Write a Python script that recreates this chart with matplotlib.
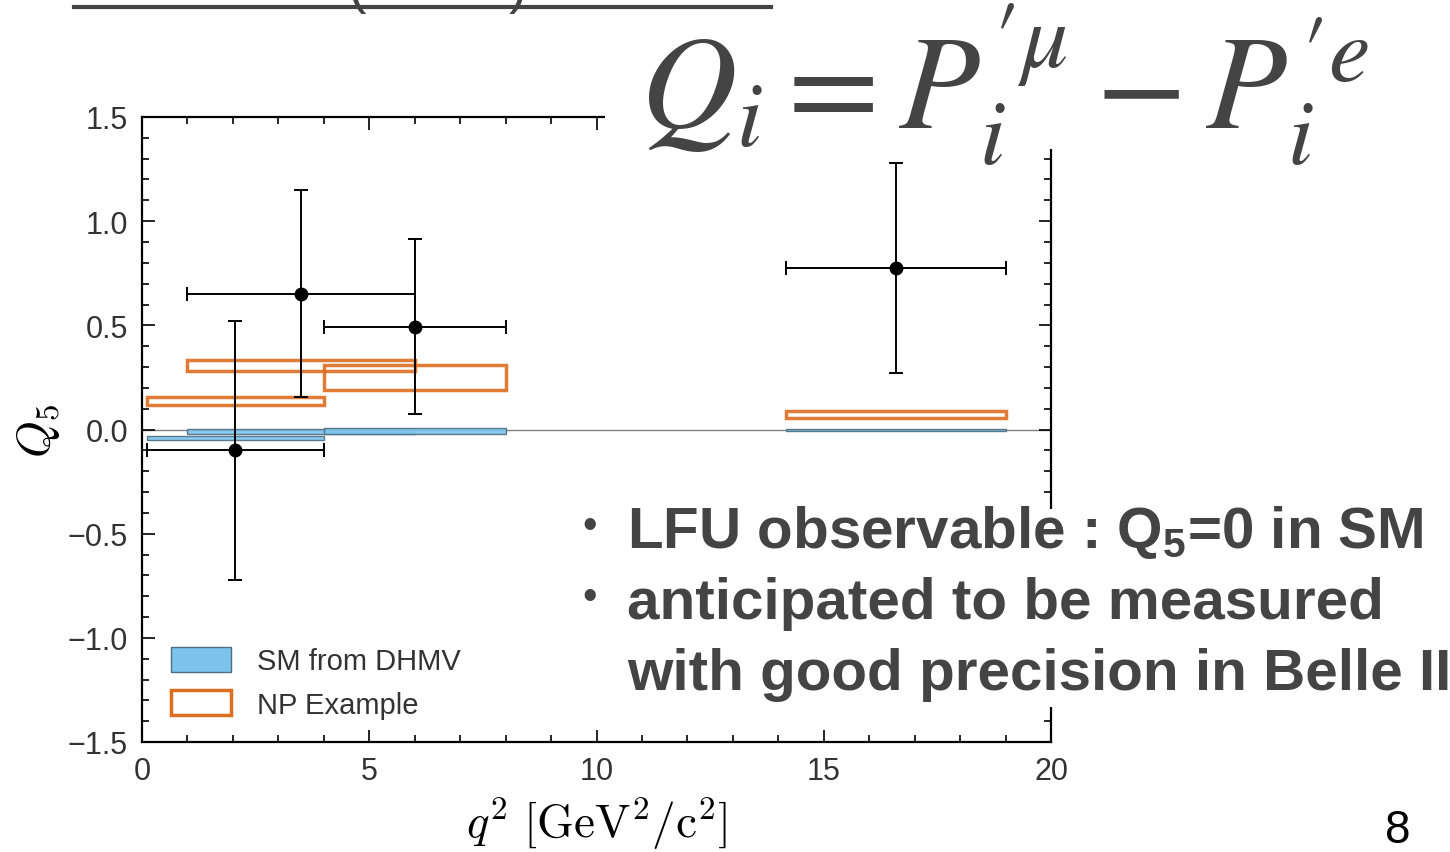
import numpy as np
import matplotlib
matplotlib.use("Agg")
import matplotlib.pyplot as plt
from matplotlib.patches import Rectangle
from matplotlib.ticker import MultipleLocator

# q^2 bins
bin_lo = [0.1, 1.0, 4.0, 14.18]
bin_hi = [4.0, 6.0, 8.0, 19.0]

# SM prediction (DHMV) band
sm_lo = [-0.050, -0.022, -0.020, -0.006]
sm_hi = [-0.033, 0.002, 0.008, 0.002]

# NP example band
np_lo = [0.116, 0.281, 0.190, 0.057]
np_hi = [0.155, 0.332, 0.308, 0.087]

# measurement points
meas_x = [2.05, 3.50, 6.00, 16.60]
meas_x_lo = [0.10, 1.00, 4.00, 14.18]
meas_x_hi = [4.00, 6.00, 8.00, 19.00]
meas_y = [-0.10, 0.65, 0.49, 0.775]
meas_y_lo = [-0.72, 0.155, 0.075, 0.27]
meas_y_hi = [0.52, 1.15, 0.915, 1.28]

bullets = [r"LFU observable : Q$_\mathrm{5}$=0 in SM",
           "anticipated to be measured",
           "with good precision in Belle II"]

BLUE = "#7CC4EE"
BLUE_EDGE = "#4F6E80"
ORANGE = "#DD6E1F"
GREY = "#444444"

# custom math font only used for the subscript in the bullet text
plt.rcParams["mathtext.fontset"] = "custom"
plt.rcParams["mathtext.rm"] = "Liberation Sans:bold"

W, H = 1450, 853
fig = plt.figure(figsize=(W / 100, H / 100), dpi=100)
ax = fig.add_axes([142 / W, 1 - 743 / H, (1051 - 142) / W, (743 - 118) / H])

ax.axhline(0.0, color="#808080", lw=1.0, zorder=1)

for lo, hi, a, b in zip(bin_lo, bin_hi, sm_lo, sm_hi):
    ax.add_patch(Rectangle((lo, a), hi - lo, b - a, facecolor=BLUE,
                           edgecolor=BLUE_EDGE, lw=1.0, alpha=0.9, zorder=2))
for lo, hi, a, b in zip(bin_lo, bin_hi, np_lo, np_hi):
    ax.add_patch(Rectangle((lo, a), hi - lo, b - a, facecolor="none",
                           edgecolor=ORANGE, lw=2.5, alpha=0.9, zorder=3))

mx = np.array(meas_x)
my = np.array(meas_y)
xerr = [mx - np.array(meas_x_lo), np.array(meas_x_hi) - mx]
yerr = [my - np.array(meas_y_lo), np.array(meas_y_hi) - my]
ax.errorbar(mx, my, xerr=xerr, yerr=yerr, fmt="o", color="black",
            ms=9, lw=1.4, capsize=5, capthick=1.4, zorder=4)

ax.set_xlim(0, 20)
ax.set_ylim(-1.5, 1.5)
ax.xaxis.set_major_locator(MultipleLocator(5))
ax.xaxis.set_minor_locator(MultipleLocator(1))
ax.yaxis.set_major_locator(MultipleLocator(0.5))
ax.yaxis.set_minor_locator(MultipleLocator(0.1))
ax.tick_params(which="both", direction="in", top=True, right=True,
               labelsize=22, labelcolor="#333333", width=1.2)
ax.tick_params(which="major", length=9, pad=10)
ax.tick_params(which="minor", length=5)
for lab in ax.get_xticklabels() + ax.get_yticklabels():
    lab.set_family("Liberation Sans")
for sp in ax.spines.values():
    sp.set_linewidth(1.6)

ax.set_xlabel(r"$q^2\ [\mathrm{GeV}^2/\mathrm{c}^2]$", fontsize=34,
              math_fontfamily="cm", labelpad=6)
ax.set_ylabel(r"$Q_5$", fontsize=34, math_fontfamily="cm", labelpad=4)

h_sm = Rectangle((0, 0), 1, 1, facecolor=BLUE, edgecolor=BLUE_EDGE, lw=1.0)
h_np = Rectangle((0, 0), 1, 1, facecolor="white", edgecolor=ORANGE, lw=2.5)
ax.legend([h_sm, h_np], ["SM from DHMV", "NP Example"], loc="lower left",
          bbox_to_anchor=(0.006, 0.0),
          frameon=False, handlelength=2.05, handleheight=0.95,
          prop={"family": "Liberation Sans", "size": 21},
          labelcolor="#333333", borderaxespad=0.4, labelspacing=0.5,
          handletextpad=0.9)

# slide overlay: white areas behind formula and bullets
fig.add_artist(Rectangle((605 / W, 1 - 150 / H), 1, 1, transform=fig.transFigure,
                         facecolor="white", edgecolor="none", zorder=2))
fig.add_artist(Rectangle((570 / W, 1 - 708 / H), 1, 198 / H,
                         transform=fig.transFigure,
                         facecolor="white", edgecolor="none", zorder=2))

fig.text(1005 / W, 1 - 130 / H, r"$Q_i = P_i^{\prime\mu} - P_i^{\prime e}$",
         fontsize=96, math_fontfamily="stix", color=GREY,
         ha="center", va="baseline", zorder=5)

# cut-off title from the slide above
fig.add_artist(plt.Line2D([74 / W, 771 / W], [1 - 8 / H, 1 - 8 / H],
                          transform=fig.transFigure, color=GREY, lw=3))
fig.text(357 / W, 1 - 14 / H, "(", fontsize=40, color=GREY, ha="center",
         va="bottom", family="Liberation Sans")
fig.text(518 / W, 1 - 14 / H, ")", fontsize=40, color=GREY, ha="center",
         va="bottom", family="Liberation Sans")

for i, line in enumerate(bullets):
    y = 1 - (548 + 71 * i) / H
    if i < 2:
        fig.text(590 / W, y + 10 / H, "\u2022", fontsize=30, color=GREY,
                 ha="center", va="baseline", family="Liberation Sans", zorder=5)
    fig.text(627 / W, y, line, fontsize=42, fontweight="bold", color=GREY,
             ha="left", va="baseline", math_fontfamily="custom",
             family="Liberation Sans", zorder=5)

fig.text(1398 / W, 1 - 843 / H, "8", fontsize=33, color="black",
         ha="center", va="baseline", family="Liberation Sans")

fig.savefig("out.png", dpi=100)
